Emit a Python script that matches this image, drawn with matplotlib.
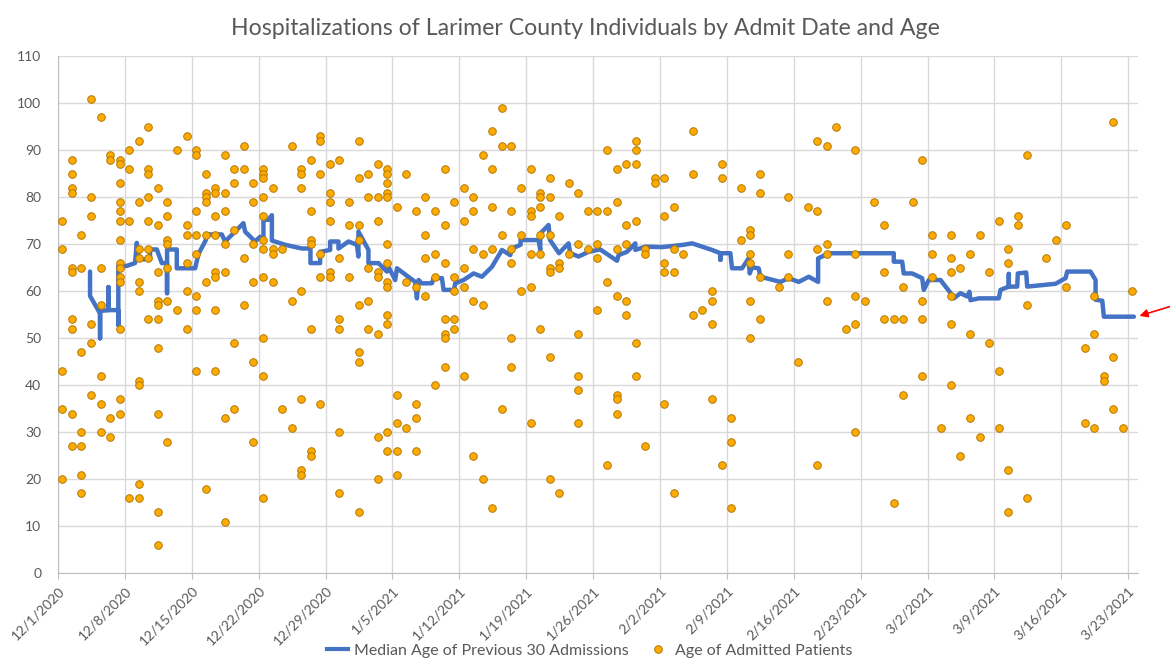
import numpy as np
import pandas as pd
import matplotlib
matplotlib.use("Agg")
import matplotlib.pyplot as plt
from matplotlib.lines import Line2D

plt.rcParams['font.family'] = ['Lato', 'DejaVu Sans']

# --- data ---
START = pd.Timestamp("2020-12-01")
X_MAX = 113          # days shown after 12/1/2020
ADMIT_OFFSET = 0.45  # admissions sit a bit after midnight of the admit date

# admit day (days since 12/1/2020) and the ages admitted on that day
admit_days = list(range(0, 74)) + [75, 76, 77, 78, 79, 80, 81, 82, 83, 84, 85, 86, 87, 88, 89, 90,
                                   91, 92, 93, 94, 95, 96, 97, 98, 99, 100, 101, 103, 104, 105,
                                   107, 108, 109, 110, 111, 112]
admit_ages = [
    [75, 69, 43, 35, 20],
    [88, 85, 82, 81, 65, 64, 54, 52, 34, 27],
    [72, 65, 47, 30, 27, 21, 17],
    [101, 80, 76, 53, 49, 38],
    [97, 65, 57, 42, 36, 30],
    [89, 88, 33, 29],
    [88, 87, 83, 79, 77, 75, 71, 66, 65, 63, 62, 52, 37, 34],
    [90, 86, 75, 16],
    [92, 79, 69, 67, 62, 60, 41, 40, 19, 16],
    [95, 86, 85, 80, 75, 69, 67, 54],
    [82, 74, 64, 58, 57, 54, 48, 34, 13, 6],
    [79, 76, 71, 70, 65, 58, 28],
    [90, 56],
    [93, 74, 72, 66, 60, 52],
    [90, 89, 77, 72, 68, 59, 56, 43],
    [85, 81, 80, 79, 72, 62, 18],
    [82, 81, 76, 72, 64, 63, 56, 43],
    [89, 81, 77, 70, 64, 33, 11],
    [86, 83, 73, 49, 35],
    [91, 86, 67, 57],
    [83, 79, 70, 62, 45, 28],
    [86, 85, 84, 80, 76, 71, 69, 63, 50, 42, 16],
    [82, 69, 68, 62],
    [69, 35],
    [91, 58, 31],
    [86, 85, 82, 60, 37, 22, 21],
    [88, 77, 71, 70, 52, 26, 25],
    [93, 92, 85, 68, 63, 36],
    [87, 81, 79, 75, 64, 63],
    [88, 67, 54, 52, 30, 17],
    [79, 74, 63],
    [92, 84, 74, 71, 57, 47, 45, 13],
    [85, 80, 65, 58, 52],
    [87, 80, 75, 64, 63, 51, 29, 20],
    [86, 85, 83, 81, 80, 70, 66, 62, 61, 55, 53, 30, 26],
    [78, 38, 32, 26, 21],
    [85, 62, 31],
    [77, 61, 36, 33, 26],
    [80, 72, 67, 59],
    [77, 68, 63, 40],
    [86, 74, 66, 54, 51, 50, 44],
    [79, 63, 60, 54, 52],
    [82, 75, 65, 61, 42],
    [80, 77, 69, 58, 25],
    [89, 68, 57, 20],
    [94, 86, 78, 69, 14],
    [99, 91, 72, 35],
    [91, 77, 69, 66, 50, 44],
    [82, 72, 60],
    [86, 77, 76, 68, 61, 32],
    [81, 80, 78, 72, 68, 52],
    [84, 80, 72, 65, 64, 46, 20],
    [76, 66, 65, 17],
    [83, 68],
    [81, 70, 51, 42, 39, 32],
    [77, 69],
    [77, 70, 67, 56],
    [90, 77, 62, 23],
    [86, 79, 69, 59, 38, 37, 34],
    [87, 74, 70, 58, 55],
    [92, 90, 87, 75, 49, 42],
    [69, 68, 27],
    [84, 83],
    [84, 76, 66, 64, 36],
    [78, 69, 64, 17],
    [68],
    [94, 85, 55],
    [56],
    [60, 58, 53, 37],
    [87, 84, 23],
    [33, 28, 14],
    [82, 71],
    [73, 72, 68, 66, 58, 50],
    [85, 81, 63, 54],
    [61],
    [80, 68, 63],
    [45],
    [78],
    [92, 77, 69, 23],
    [91, 70, 68, 58],
    [95],
    [52],
    [90, 68, 59, 53, 30],
    [58],
    [79],
    [74, 64, 54],
    [54, 15],
    [61, 54, 38],
    [79],
    [88, 58, 54, 42],
    [72, 68, 63],
    [31],
    [72, 67, 64, 59, 53, 40],
    [65, 25],
    [68, 51, 33],
    [72, 29],
    [64, 49],
    [75, 43, 31],
    [69, 66, 22, 13],
    [76, 74],
    [89, 57, 16],
    [67],
    [71],
    [74, 61],
    [48, 32],
    [59, 51, 31],
    [42, 41],
    [96, 46, 35],
    [31],
    [60],
]

# median age of previous 30 admissions (traced path)
median_day = [3.35, 3.35, 4.40, 4.40, 4.40, 5.27, 5.27, 5.27, 6.31, 6.31, 6.31, 7.19, 8.06, 8.24,
              8.48, 9.63, 9.63, 10.34, 10.86, 11.41, 11.41, 11.41, 12.43, 12.43, 14.35, 14.69,
              15.47, 15.47, 17.14, 17.49, 18.53, 19.40, 19.58, 20.63, 21.15, 21.50, 21.50, 22.02,
              22.38, 22.38, 23.77, 25.52, 26.42, 26.42, 27.43, 27.43, 28.48, 28.48, 29.35, 29.35,
              30.40, 31.28, 31.44, 31.44, 32.49, 32.49, 33.54, 34.42, 34.59, 35.29, 35.47, 37.38,
              37.56, 37.73, 38.08, 39.13, 39.30, 40.18, 40.35, 41.43, 41.57, 42.44, 43.49, 44.37,
              45.41, 46.46, 47.33, 47.51, 48.41, 48.41, 50.29, 50.47, 50.47, 51.34, 51.49, 52.43,
              53.43, 53.61, 54.48, 55.53, 56.75, 58.50, 58.67, 59.55, 60.42, 60.42, 61.47, 63.21,
              65.48, 66.36, 68.45, 69.32, 69.32, 69.32, 70.37, 70.54, 71.59, 72.28, 72.39, 72.64,
              73.33, 73.51, 75.60, 76.47, 77.52, 78.57, 79.55, 79.55, 80.66, 87.47, 87.47, 88.35,
              88.51, 89.39, 90.44, 90.61, 91.13, 92.36, 93.58, 93.75, 94.45, 95.15, 95.39, 95.50,
              96.37, 98.46, 98.64, 99.51, 99.51, 99.51, 100.39, 100.45, 101.33, 101.43, 104.40,
              105.45, 105.62, 108.06, 108.59, 108.59, 109.29, 109.46, 112.60]
median_age = [64.2, 59.0, 55.3, 50.0, 55.8, 56.0, 60.9, 56.0, 56.0, 52.8, 65.4, 65.4, 66.0, 70.3,
              66.8, 66.8, 68.9, 68.9, 66.0, 66.0, 59.6, 68.9, 68.9, 64.9, 64.9, 67.9,
              70.9, 72.1, 72.1, 70.6, 72.7, 74.5, 72.7, 70.6, 71.6, 70.6, 75.2, 75.2,
              76.2, 70.8, 69.9, 69.1, 69.1, 66.0, 66.0, 68.4, 68.8, 70.6, 70.6, 69.1,
              70.6, 69.9, 67.4, 72.7, 68.8, 66.0, 66.0, 64.2, 65.2, 62.4, 64.9, 62.0,
              58.5, 62.4, 61.7, 61.7, 62.8, 62.8, 60.3, 60.3, 61.7, 62.4, 63.8, 63.1,
              65.2, 68.8, 67.7, 69.1, 69.9, 70.9, 70.9, 68.8, 72.3, 74.1, 70.9, 68.1,
              70.2, 68.1, 67.4, 68.4, 68.9, 66.5, 67.7, 68.4, 70.2, 68.8, 69.5, 69.4,
              69.9, 70.2, 68.8, 68.1, 66.7, 68.1, 68.1, 64.9, 64.9, 67.0, 63.8, 65.1,
              64.9, 63.1, 62.0, 62.8, 62.0, 63.1, 62.0, 67.0, 68.1, 68.1, 66.3, 66.3,
              63.8, 63.8, 62.8, 60.3, 62.4, 62.4, 59.2, 58.5, 59.6, 58.9, 59.9, 58.1,
              58.5, 58.5, 60.3, 61.0, 63.7, 61.0, 61.0, 63.8, 64.0, 61.0, 61.6,
              62.8, 64.2, 64.2, 62.4, 58.2, 58.0, 54.6, 54.6]

# tick labels every 7 days
tick_dates = pd.date_range(START, periods=17, freq="7D")
tick_labels = [f"{d.month}/{d.day}/{d.year}" for d in tick_dates]
tick_pos = [(d - START).days for d in tick_dates]

# flatten scatter table
pts_x = []
pts_y = []
for day, ages in zip(admit_days, admit_ages):
    for a in ages:
        pts_x.append(day + ADMIT_OFFSET)
        pts_y.append(a)

TEXT = "#595959"
LINE_BLUE = "#4472C4"
DOT_FILL = "#FFAA00"
DOT_EDGE = "#B07A08"

fig = plt.figure(figsize=(11.7, 6.71), dpi=100)
ax = fig.add_axes([0.0496, 0.1456, 0.9228, 0.7705])

ax.plot(median_day, median_age, color=LINE_BLUE, lw=3.2, solid_joinstyle="round",
        solid_capstyle="round", zorder=2)
ax.scatter(pts_x, pts_y, s=30, facecolor=DOT_FILL, edgecolor=DOT_EDGE, linewidth=0.7, zorder=3)

ax.set_xlim(0, X_MAX)
ax.set_ylim(0, 110)
ax.set_xticks(tick_pos)
ax.set_xticklabels(tick_labels, rotation=45, ha="right", va="top", rotation_mode="anchor",
                   color=TEXT, fontsize=10)
ax.set_yticks(range(0, 111, 10))
ax.set_yticklabels([str(v) for v in range(0, 111, 10)], color=TEXT, fontsize=10)
ax.tick_params(axis="y", length=0, pad=12)
ax.tick_params(axis="x", length=4, color="#bfbfbf", pad=4)
ax.grid(color="#d9d9d9", lw=1)
ax.set_axisbelow(True)
for s in ["top", "right"]:
    ax.spines[s].set_visible(False)
for s in ["left", "bottom"]:
    ax.spines[s].set_color("#bfbfbf")

fig.text(0.5, 0.958, "Hospitalizations of Larimer County Individuals by Admit Date and Age",
         ha="center", va="center", fontsize=16.7, color=TEXT)

handles = [Line2D([], [], color=LINE_BLUE, lw=3),
           Line2D([], [], ls="", marker="o", markersize=5.5, markerfacecolor=DOT_FILL,
                  markeredgecolor=DOT_EDGE, markeredgewidth=0.7)]
fig.legend(handles, ["Median Age of Previous 30 Admissions", "Age of Admitted Patients"],
           loc="center", bbox_to_anchor=(0.504, 0.03), ncol=2, frameon=False,
           fontsize=11.5, labelcolor=TEXT, handlelength=1.3, handletextpad=0.4,
           columnspacing=1.2)

# red arrow pointing at the last median value
ax.annotate("", xy=(median_day[-1] + 0.3, median_age[-1]), xycoords="data",
            xytext=(36, 11), textcoords="offset pixels",
            arrowprops=dict(arrowstyle="-|>", color="red", lw=1.2, mutation_scale=12),
            annotation_clip=False)

fig.savefig("out.png", dpi=100)
